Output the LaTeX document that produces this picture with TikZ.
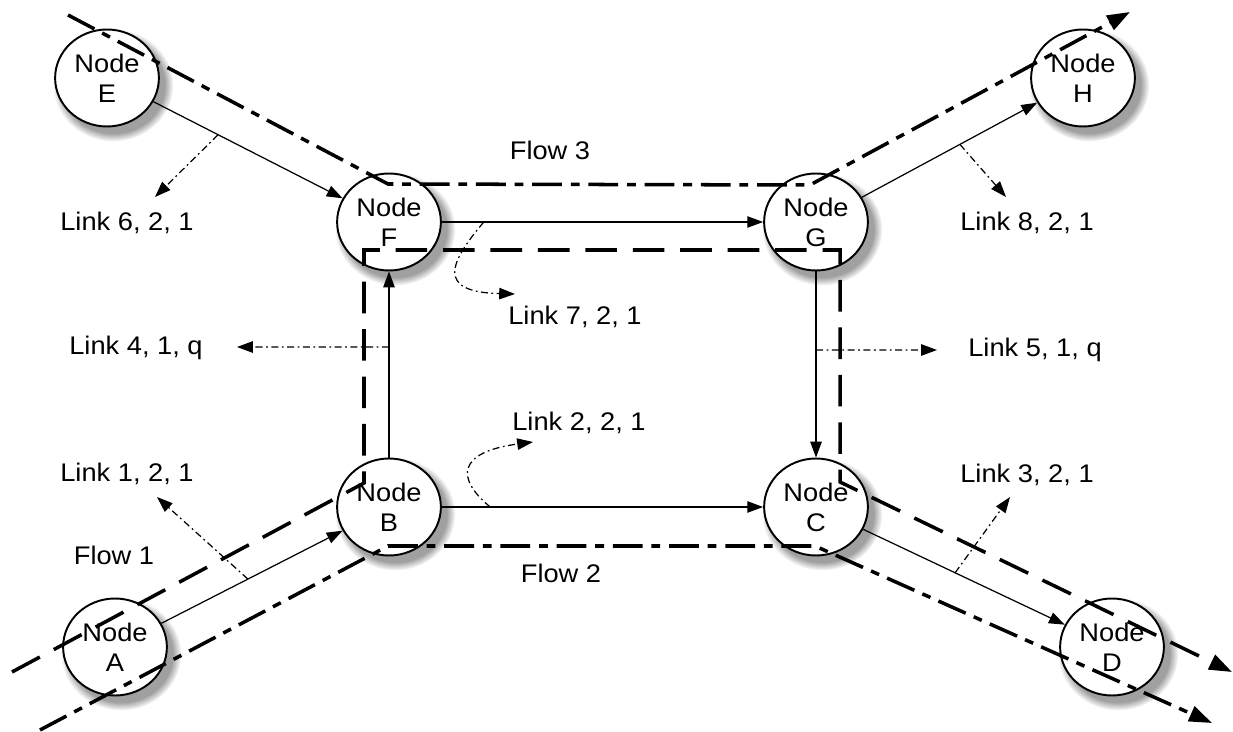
\documentclass[tikz,border=0pt]{standalone}
\usepackage{fontspec}
\setmainfont{Liberation Sans}
\usepackage{tikz}
\usetikzlibrary{arrows.meta,shadows,calc}

\begin{document}
\begin{tikzpicture}[x=0.02cm, y=-0.02cm,
		site/.style={draw, circle, fill=white, minimum size=1.94cm, inner sep=0pt, line width=1.1pt, xscale=1.07, align=center, font=\fontsize{14.5}{17}\selectfont, circular drop shadow={shadow xshift=3pt, shadow yshift=-3.5pt, shadow scale=1.16, opacity=0.75}},
		tag/.style={font=\fontsize{14.5}{17}\selectfont, xscale=1.07},
		link/.style={line width=0.7pt, -{Triangle[length=9pt, width=6.5pt]}},
		note/.style={line width=0.7pt, dash pattern=on 4pt off 2pt on 1pt off 2pt, -{Triangle[length=9pt, width=6.5pt]}},
		flowa/.style={line width=2pt, dash pattern=on 18pt off 9pt, -{Triangle[length=13pt, width=9pt]}},
		flowb/.style={line width=2pt, dash pattern=on 17pt off 5pt on 5pt off 5pt, -{Triangle[length=13pt, width=9pt]}}]
		\useasboundingbox (0,0) rectangle (1233,732);

		\node[site] (nE) at (107,78) {Node\\E};
		\node[site] (nF) at (389,222) {Node\\F};
		\node[site] (nG) at (816,222) {Node\\G};
		\node[site] (nH) at (1083,78) {Node\\H};
		\node[site] (nA) at (115,647) {Node\\A};
		\node[site] (nB) at (389,507) {Node\\B};
		\node[site] (nC) at (816,507) {Node\\C};
		\node[site] (nD) at (1112,647) {Node\\D};

		\draw[link] (nE) -- (nF);
		\draw[link] (nF) -- (nG);
		\draw[link] (nG) -- (nH);
		\draw[link] (nA) -- (nB);
		\draw[link] (nB) -- (nC);
		\draw[link] (nC) -- (nD);
		\draw[link] (nB) -- (nF);
		\draw[link] (nG) -- (nC);

		\node[tag] (k1) at (127,474) {Link 1, 2, 1};
		\node[tag] (k2) at (579,423) {Link 2, 2, 1};
		\node[tag] (k3) at (1027,475) {Link 3, 2, 1};
		\node[tag] (k4) at (136,348) {Link 4, 1, q};
		\node[tag] (k5) at (1035,350) {Link 5, 1, q};
		\node[tag] (k6) at (127,223) {Link 6, 2, 1};
		\node[tag] (k7) at (575,317) {Link 7, 2, 1};
		\node[tag] (k8) at (1027,223) {Link 8, 2, 1};

		\coordinate (l1) at ($(nA)!0.485!(nB)$);
		\coordinate (l2) at ($(nB)!0.237!(nC)$);
		\coordinate (l3) at ($(nC)!0.47!(nD)$);
		\coordinate (l4) at ($(nB)!0.561!(nF)$);
		\coordinate (l5) at ($(nG)!0.449!(nC)$);
		\coordinate (l6) at ($(nE)!0.394!(nF)$);
		\coordinate (l7) at ($(nF)!0.222!(nG)$);
		\coordinate (l8) at ($(nG)!0.539!(nH)$);
		\coordinate (t1) at (157,497);
		\coordinate (t2) at (533,442);
		\coordinate (t3) at (1010,497);
		\coordinate (t4) at (237,347);
		\coordinate (t5) at (937,350);
		\coordinate (t6) at (155,197);
		\coordinate (t7) at (515,294);
		\coordinate (t8) at (1006,197);

		\draw[note] (l1) -- (t1);
		\draw[note] (l2) .. controls (455,478) and (458,452) .. (t2);
		\draw[note] (l3) -- (t3);
		\draw[note] (l4) -- (t4);
		\draw[note] (l5) -- (t5);
		\draw[note] (l6) -- (t6);
		\draw[note] (l7) .. controls (450,262) and (435,292) .. (t7);
		\draw[note] (l8) -- (t8);

		\coordinate (f1a) at (12,672);
		\coordinate (f1b) at (364,483);
		\coordinate (f1c) at (364,250);
		\coordinate (f1d) at (840,250);
		\coordinate (f1e) at (840,482);
		\coordinate (f1f) at (1232,672);
		\coordinate (f2a) at (40,730);
		\coordinate (f2b) at (388,546);
		\coordinate (f2c) at (815,546);
		\coordinate (f2d) at (1212,723);
		\coordinate (f3a) at (68,15);
		\coordinate (f3b) at (388,184);
		\coordinate (f3c) at (810,185);
		\coordinate (f3d) at (1130,12);

		\draw[flowa] (f1a) -- (f1b) -- (f1c) -- (f1d) -- (f1e) -- (f1f);
		\draw[flowb] (f2a) -- (f2b) -- (f2c) -- (f2d);
		\draw[flowb] (f3a) -- (f3b) -- (f3c) -- (f3d);

		\node[tag] (w1) at (114,555) {Flow 1};
		\node[tag] (w2) at (561,573) {Flow 2};
		\node[tag] (w3) at (550,150) {Flow 3};
	\end{tikzpicture}
\end{document}
